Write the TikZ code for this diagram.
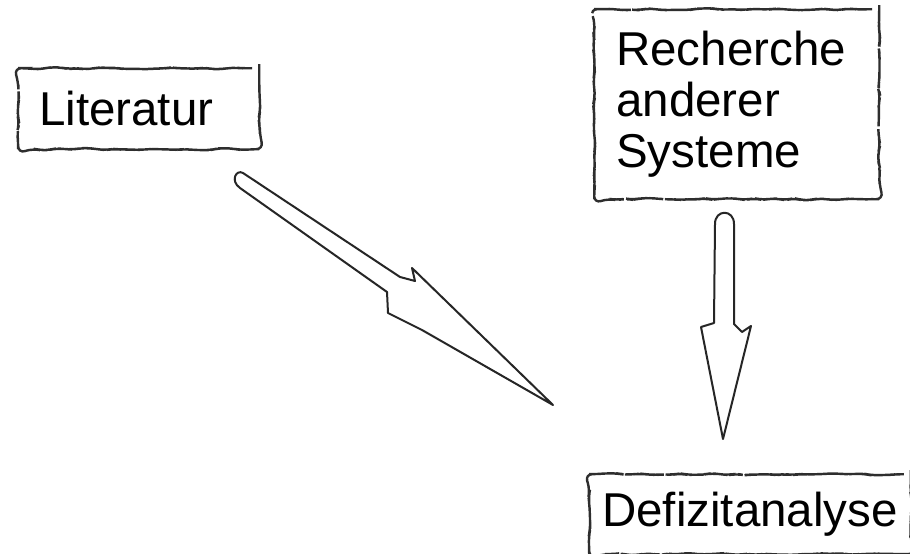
\documentclass[tikz,border=0pt]{standalone}
\usepackage{fontspec}
\setmainfont{Liberation Sans}
\usetikzlibrary{decorations.pathmorphing}
\begin{document}
\begin{tikzpicture}[x=1pt,y=1pt,
  box/.style={draw=black!82, line width=2.4pt, rounded corners=7pt,
    dash pattern=on 95pt off 3pt,
    decorate, decoration={random steps, segment length=8pt, amplitude=1.1pt},
    font=\fontsize{47.5}{51}\selectfont, align=left, anchor=north west,
    inner ysep=0pt, text=black},
  bigarrow/.style={draw=black!85, line width=2pt, fill=white, line join=round}]
\pgfmathsetseed{7}
\useasboundingbox (0,0) rectangle (910,554);
\fill[white] (0,0) rectangle (910,554);

\node[box, text width=199pt, inner xsep=21pt, minimum height=81pt] (lit) at (17,487) {Literatur};
\node[box, text width=241pt, inner xsep=22pt, minimum height=190pt] (rec) at (593,546) {Recherche\\anderer\\Systeme};
\node[box, inner xsep=13pt, minimum height=80pt] (def) at (588,81) {Defizitanalyse};

% diagonal hollow arrow (Literatur -> Defizitanalyse)
\coordinate (a1tip) at (553,149);
\draw[bigarrow] (243,381) -- (400,277) -- (415,273) -- (412,286) -- (a1tip)
  -- (422,224) -- (388,241) -- (387,262) -- (240,366)
  .. controls (230,373) and (236,385) .. (243,381) -- cycle;

% vertical hollow arrow (Recherche -> Defizitanalyse)
\coordinate (a2tip) at (723,115);
\draw[bigarrow] (715,330) -- (714,231) -- (701,227) -- (a2tip)
  -- (751,228) -- (742,222) -- (734,230) -- (734,330)
  .. controls (734,345) and (715,345) .. (715,330) -- cycle;
\end{tikzpicture}
\end{document}
